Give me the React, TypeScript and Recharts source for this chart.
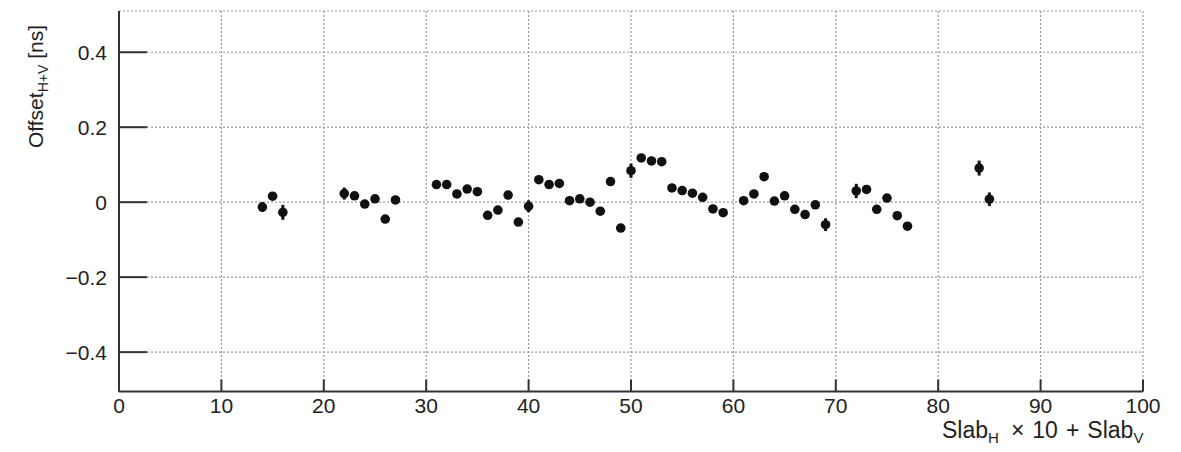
import React from "react"
import { ScatterChart, Scatter, XAxis, YAxis, CartesianGrid, ErrorBar } from "recharts"

// slab index = SlabH * 10 + SlabV
const slabIds = [
  14, 15, 16, 22, 23, 24, 25, 26, 27, 31, 32, 33, 34, 35, 36, 37, 38, 39, 40, 41, 42, 43, 44, 45, 46, 47,
  48, 49, 50, 51, 52, 53, 54, 55, 56, 57, 58, 59, 61, 62, 63, 64, 65, 66, 67, 68, 69, 72, 73, 74, 75, 76,
  77, 84, 85,
]
const offsets = [
  -0.013, 0.016, -0.027, 0.023, 0.017, -0.005, 0.009, -0.045, 0.006, 0.047, 0.047, 0.022, 0.035, 0.028,
  -0.035, -0.021, 0.019, -0.053, -0.011, 0.06, 0.047, 0.05, 0.004, 0.009, 0.0, -0.024, 0.055, -0.069, 0.084,
  0.118, 0.11, 0.108, 0.038, 0.031, 0.024, 0.013, -0.018, -0.028, 0.004, 0.022, 0.068, 0.003, 0.017, -0.019,
  -0.033, -0.007, -0.06, 0.03, 0.034, -0.019, 0.011, -0.036, -0.064, 0.091, 0.008,
]
const errors = [
  0.013, 0.01, 0.02, 0.016, 0.005, 0.005, 0.005, 0.006, 0.006, 0.005, 0.005, 0.005, 0.005, 0.005, 0.006,
  0.006, 0.005, 0.006, 0.016, 0.005, 0.005, 0.005, 0.005, 0.005, 0.005, 0.005, 0.006, 0.006, 0.019, 0.005,
  0.005, 0.005, 0.005, 0.005, 0.005, 0.005, 0.005, 0.006, 0.005, 0.005, 0.006, 0.005, 0.005, 0.005, 0.005,
  0.006, 0.017, 0.019, 0.006, 0.005, 0.005, 0.005, 0.006, 0.02, 0.018,
]
const xTicks = [0, 10, 20, 30, 40, 50, 60, 70, 80, 90, 100]
const yTicks = [-0.4, -0.2, 0, 0.2, 0.4]

const data = slabIds.map((x, i) => ({ x, y: offsets[i], err: errors[i] }))

const FONT = "'Liberation Sans', Arial, Helvetica, sans-serif"
const TEXT = "#222"
const X_MARGIN = 7
const Y_MARGIN = 12

const fmtY = (v: number) => (v === 0 ? "0" : v.toFixed(1).replace("-", "\u2212"))

const XTick = ({ x, y, payload }: any) => (
  <g>
    <line x1={x} x2={x} y1={y - X_MARGIN} y2={y - X_MARGIN - 12} stroke="#333" strokeWidth={2} />
    <text x={x} y={y} dy="0.71em" textAnchor="middle" fontSize={21} fontFamily={FONT} fill={TEXT}>
      {payload.value}
    </text>
  </g>
)

const YTick = ({ x, y, payload }: any) => (
  <g>
    <line x1={x + Y_MARGIN} x2={x + Y_MARGIN + 28} y1={y} y2={y} stroke="#333" strokeWidth={2} />
    <text x={x} y={y} dy="0.355em" textAnchor="end" fontSize={21} fontFamily={FONT} fill={TEXT}>
      {fmtY(payload.value)}
    </text>
  </g>
)

const XTitle = ({ viewBox }: any) => {
  const { x, y, width } = viewBox
  return (
    <text x={x + width - 201} y={y + 46} fontSize={23} fontFamily={FONT} fill={TEXT}>
      Slab
      <tspan fontSize={15} dy={5}>H</tspan>
      <tspan dy={-5} dx={12}>×</tspan>
      <tspan dx={8}>10</tspan>
      <tspan dx={8}>+</tspan>
      <tspan dx={8}>Slab</tspan>
      <tspan fontSize={15} dy={5}>V</tspan>
    </text>
  )
}

const YTitle = () => (
  <text
    transform="translate(35, 140) rotate(-90)"
    x={0}
    y={0}
    fontSize={21}
    fontFamily={FONT}
    fill={TEXT}
  >
    Offset
    <tspan fontSize={14} dy={5}>H+V</tspan>
    <tspan dy={-5} dx={6}>[ns]</tspan>
  </text>
)

const Dot = (p: any) => <circle cx={p.cx} cy={p.cy} r={4.8} fill="#111" />

export default function App() {
  return (
    <ScatterChart width={1165} height={444} margin={{ top: 3, right: 30, bottom: 15.5, left: 31 }}>
      <CartesianGrid stroke="#9a9a9a" strokeDasharray="2 2" strokeWidth={1.2} />
      <XAxis
        type="number"
        dataKey="x"
        domain={[0, 100]}
        ticks={xTicks}
        height={45}
        tickSize={0}
        tickMargin={X_MARGIN}
        tick={<XTick />}
        axisLine={{ stroke: "#333", strokeWidth: 2 }}
        label={<XTitle />}
        interval={0}
      />
      <XAxis
        xAxisId="top"
        orientation="top"
        type="number"
        domain={[0, 100]}
        height={0}
        tick={false}
        tickLine={false}
        axisLine={{ stroke: "#777", strokeWidth: 2 }}
      />
      <YAxis
        type="number"
        dataKey="y"
        domain={[-0.505, 0.51]}
        ticks={yTicks}
        width={80}
        tickSize={0}
        tickMargin={Y_MARGIN}
        tick={<YTick />}
        axisLine={{ stroke: "#333", strokeWidth: 2 }}
        allowDataOverflow
        interval={0}
      />
      <YAxis
        yAxisId="right"
        orientation="right"
        type="number"
        domain={[-0.505, 0.51]}
        width={0}
        tick={false}
        tickLine={false}
        axisLine={{ stroke: "#777", strokeWidth: 2 }}
      />
      <Scatter data={data} shape={Dot} isAnimationActive={false}>
        <ErrorBar dataKey="err" direction="y" width={0} stroke="#111" strokeWidth={3} />
      </Scatter>
      <YTitle />
    </ScatterChart>
  )
}
